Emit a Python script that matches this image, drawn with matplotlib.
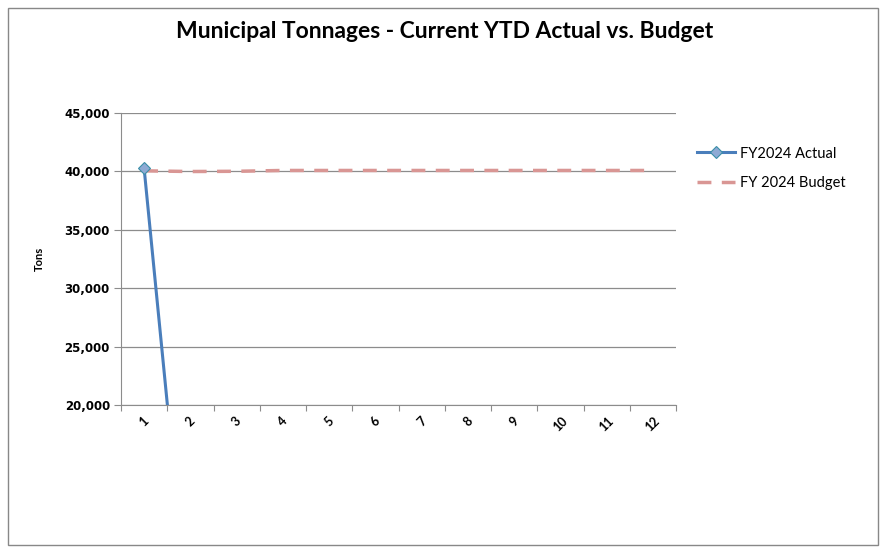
import matplotlib
matplotlib.use("Agg")
import matplotlib.pyplot as plt
from matplotlib.ticker import FuncFormatter
from matplotlib.patches import Rectangle

months = [1, 2, 3, 4, 5, 6, 7, 8, 9, 10, 11, 12]
actual_months = [1, 2]
actual = [40250, 0]
budget = [40050, 39990, 40010, 40080, 40080, 40080, 40080, 40080, 40080, 40080, 40080, 40080]
title = "Municipal Tonnages - Current YTD Actual vs. Budget"

plt.rcParams['font.family'] = ['Lato', 'DejaVu Sans']

fig = plt.figure(figsize=(8.8, 5.48), dpi=100)
fig.patches.append(Rectangle((8/880, 3/548), 870/880, 537/548, transform=fig.transFigure,
                             fill=False, edgecolor='#888888', linewidth=1.0))
ax = fig.add_axes([121/880, 1-405/548, (676-121)/880, (405-113)/548])

ax.plot(actual_months, actual, color='#4a7ebb', linewidth=2.2, marker='D', markersize=6,
        markerfacecolor='#8eaad4', markeredgecolor='#3a8fa8', markeredgewidth=0.8,
        label='FY2024 Actual', zorder=3)
ax.plot(months, budget, color='#d99694', linewidth=2.5, linestyle=(0, (4, 3)),
        label='FY 2024 Budget', zorder=2)

ax.set_ylim(20000, 45000)
ax.set_xlim(0.5, 12.5)
ax.set_yticks([20000, 25000, 30000, 35000, 40000, 45000])
ax.yaxis.set_major_formatter(FuncFormatter(lambda v, p: f"{int(v):,}"))
for lab in ax.get_yticklabels():
    lab.set_fontweight('bold')
    lab.set_fontsize(8.5)
    lab.set_family(['DejaVu Sans'])
ax.grid(axis='y', color='#8c8c8c', linewidth=0.9)
ax.set_axisbelow(True)

ax.set_xticks([i + 0.5 for i in range(0, 13)])
ax.set_xticklabels([])
ax.set_xticks(months, minor=True)
ax.set_xticklabels([str(m) for m in months], minor=True, rotation=45, fontsize=9,
                   fontweight='bold')
ax.tick_params(axis='x', which='minor', length=0, pad=7)
ax.tick_params(axis='x', which='major', length=4, color='#8c8c8c')
ax.tick_params(axis='y', length=5, color='#8c8c8c', pad=3)

for s in ['top', 'right']:
    ax.spines[s].set_visible(False)
for s in ['left', 'bottom']:
    ax.spines[s].set_color('#8c8c8c')

ax.set_ylabel('Tons', fontsize=8, fontweight='bold', labelpad=14)

fig.text(445/880, 1-32/548, title, ha='center', va='center', fontsize=16.5, fontweight='bold')

leg = ax.legend(loc='upper left', bbox_to_anchor=(1.015, 0.93), frameon=False, fontsize=10.5,
                handlelength=2.6, labelspacing=1.05, handletextpad=0.3)

fig.savefig('out.png', dpi=100)
